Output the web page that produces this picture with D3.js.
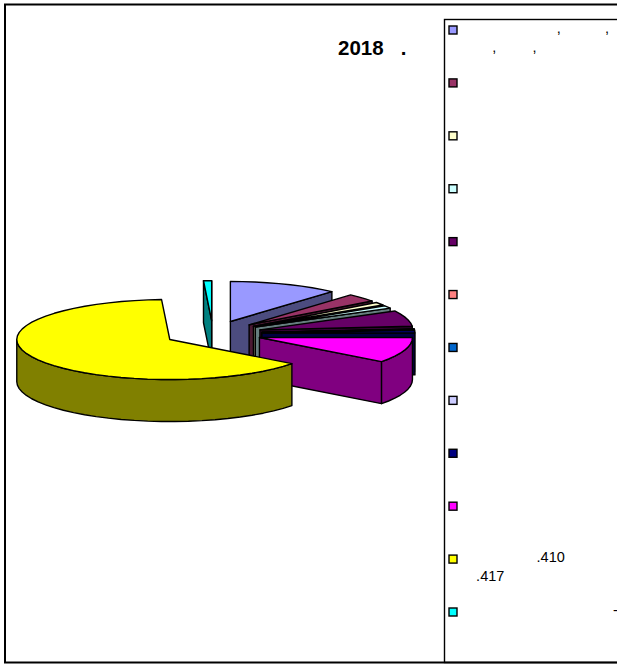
<!DOCTYPE html>
<html>
<head>
<meta charset="utf-8">
<script src="https://d3js.org/d3.v7.min.js"></script>
<style>
  html, body { margin: 0; padding: 0; background: #fff; }
  svg { display: block; }
  text { font-family: "Liberation Sans", Arial, sans-serif; fill: #000; white-space: pre; }
</style>
</head>
<body>
<div id="chart"></div>
<script>
// Datos
const sliceNames = ["a", "b", "c", "d", "e", "f", "g", "h", "i", "j", "k", "l"];
const sliceValues = [11.5, 3.3, 1.2, 1.1, 6.4, 0.1, 0.1, 0.1, 1.05, 10.3, 63.6, 0.85];
const topColors = ["#9999ff", "#993366", "#ffffcc", "#ccffff", "#660066", "#ff8080", "#0066cc", "#ccccff", "#000080", "#ff00ff", "#ffff00", "#00ffff"];
const sideColors = ["#4c4c7f", "#4c1933", "#7f7f66", "#667f7f", "#330033", "#7f4040", "#003366", "#66667f", "#000040", "#800080", "#808000", "#008080"];
const titleText = "2018   .";
const legendLines = [
    ["                        ,           ,", "        ,         ,"],
    [""], [""], [""], [""], [""], [""], [""], [""], [""],
    ["                   .410", "    .417"],
    ["                                      -"]
];

const svgWidth = 617;
const svgHeight = 664;

const svg = d3.select("#chart")
    .append("svg")
    .attr("width", svgWidth)
    .attr("height", svgHeight);

// Marcos
svg.append("rect")
    .attr("x", 5).attr("y", 4.5)
    .attr("width", 640).attr("height", 658)
    .attr("fill", "#fff").attr("stroke", "#000").attr("stroke-width", 2);

svg.append("text")
    .attr("x", 338).attr("y", 55)
    .attr("font-size", 20.5)
    .attr("font-weight", "bold")
    .text(titleText);

// Pastel: radio 1 = borde, proyectado como elipse
const px = d3.scaleLinear().domain([-1, 1]).range([213 - 153, 213 + 153]);
const py = d3.scaleLinear().domain([-1, 1]).range([333.5 - 40, 333.5 + 40]);
const depth = 42;
const explode = 0.32;

const pie = d3.pie().sort(null).value(d => d.value);
const slices = pie(sliceNames.map((n, i) => ({ name: n, value: sliceValues[i], i })));

const line = d3.line();
const pt = (d, a, r) => {
    const mid = (d.startAngle + d.endAngle) / 2;
    return [
        px(explode * Math.sin(mid) + r * Math.sin(a)),
        py(-explode * Math.cos(mid) - r * Math.cos(a))
    ];
};
const drop = (p) => [p[0], p[1] + depth];
const arcPoints = (d, a0, a1, r) => {
    const n = Math.max(1, Math.ceil((a1 - a0) / 0.09));
    return d3.range(n + 1).map(k => pt(d, a0 + (a1 - a0) * k / n, r));
};

// orden de dibujo: de atras hacia adelante
const drawOrder = [11, 0, 1, 2, 3, 4, 5, 6, 7, 8, 9, 10];
const pieG = svg.append("g")
    .attr("stroke", "#000")
    .attr("stroke-width", 1.4)
    .attr("stroke-linejoin", "round");

drawOrder.forEach(idx => {
    const d = slices[idx];
    const g = pieG.append("g");
    const tip = pt(d, d.startAngle, 0);
    const side = sideColors[idx];

    // caras de corte visibles
    if (Math.sin(d.startAngle) < 0) {
        const e = pt(d, d.startAngle, 1);
        g.append("path").attr("fill", side)
            .attr("d", line([tip, e, drop(e), drop(tip)]) + "Z");
    }
    if (Math.sin(d.endAngle) > 0) {
        const e = pt(d, d.endAngle, 1);
        g.append("path").attr("fill", side)
            .attr("d", line([tip, e, drop(e), drop(tip)]) + "Z");
    }
    // pared exterior
    const a0 = Math.max(d.startAngle, Math.PI / 2);
    const a1 = Math.min(d.endAngle, Math.PI * 1.5);
    if (a1 > a0) {
        const rim = arcPoints(d, a0, a1, 1);
        g.append("path").attr("fill", side)
            .attr("d", line(rim.concat(rim.map(drop).reverse())) + "Z");
    }
    // cara superior
    g.append("path").attr("fill", topColors[idx])
        .attr("d", line([tip].concat(arcPoints(d, d.startAngle, d.endAngle, 1))) + "Z");
});

// Leyenda
const legendY = d3.scalePoint()
    .domain(sliceNames)
    .range([30, 612]);

svg.append("rect")
    .attr("x", 444.5).attr("y", 19.5)
    .attr("width", 200).attr("height", 643)
    .attr("fill", "none").attr("stroke", "#000").attr("stroke-width", 1.4);

const legend = svg.append("g")
    .selectAll("g")
    .data(sliceNames)
    .enter().append("g")
    .attr("transform", d => `translate(0, ${legendY(d)})`);

legend.append("rect")
    .attr("x", 449).attr("y", -4)
    .attr("width", 8).attr("height", 8)
    .attr("fill", (d, i) => topColors[i])
    .attr("stroke", "#000").attr("stroke-width", 1.4);

legend.each(function (d, i) {
    d3.select(this).selectAll("text")
        .data(legendLines[i].filter(s => s.trim().length))
        .enter().append("text")
        .attr("x", 460)
        .attr("y", (s, k) => 3 + k * 19)
        .attr("font-size", 14.5)
        .text(s => s);
});
</script>
</body>
</html>
